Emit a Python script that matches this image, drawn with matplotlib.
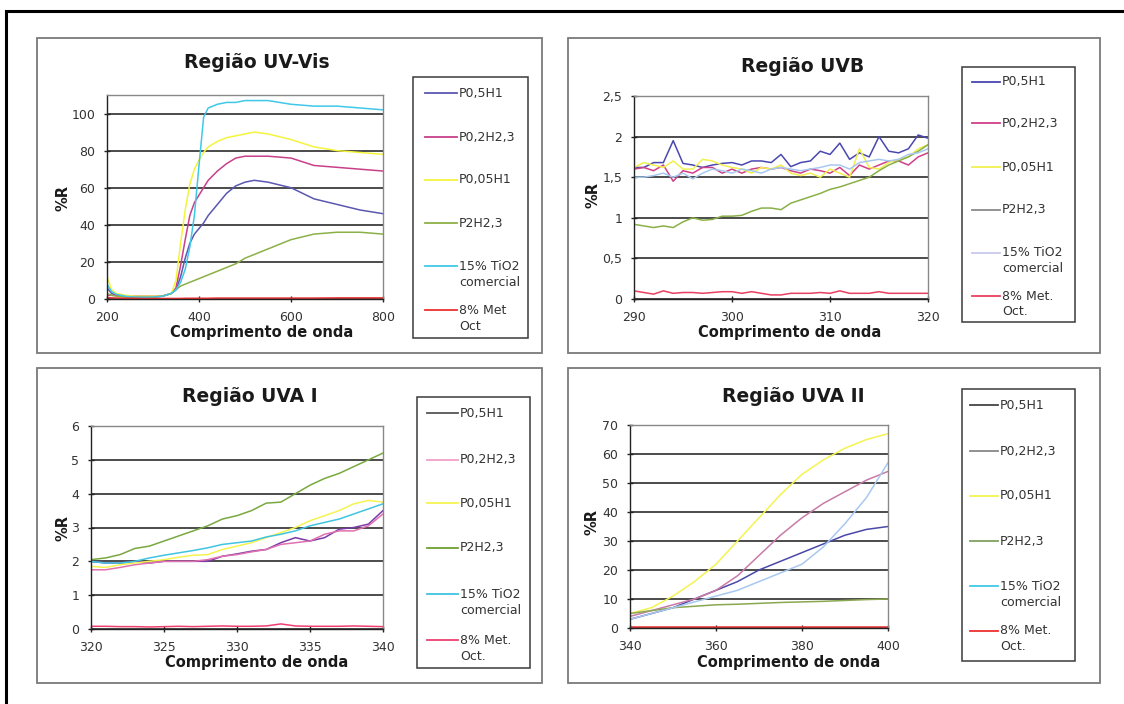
import matplotlib
matplotlib.use("Agg")
import matplotlib.pyplot as plt
from matplotlib.patches import Rectangle
from matplotlib.lines import Line2D

W = 1124
H = 704

series_names = ["P0,5H1", "P0,2H2,3", "P0,05H1", "P2H2,3", "15% TiO2\ncomercial", "8% Met.\nOct."]

# Regiao UV-Vis
x_vis = [200, 210, 220, 240, 260, 280, 300, 320, 340, 350, 360, 370, 380, 390, 400, 410, 420, 440, 460, 480, 500, 520, 550, 600, 650, 700, 750, 800]
vis_p05h1 = [6, 3, 2, 1.5, 1, 1, 1, 1.5, 3, 5, 12, 22, 30, 35, 38, 41, 45, 51, 57, 61, 63, 64, 63, 60, 54, 51, 48, 46]
vis_p02h23 = [2, 2, 2, 1.5, 1.5, 1.5, 1.5, 1.5, 3, 6, 18, 32, 45, 52, 56, 60, 64, 69, 73, 76, 77, 77, 77, 76, 72, 71, 70, 69]
vis_p005h1 = [12, 5, 3, 2, 1.5, 1.5, 1.5, 1.5, 3, 10, 30, 48, 62, 70, 75, 79, 82, 85, 87, 88, 89, 90, 89, 86, 82, 80, 79, 78]
vis_p2h23 = [3, 2, 1.5, 1, 1, 1, 1, 1.5, 3, 5, 7, 8, 9, 10, 11, 12, 13, 15, 17, 19, 22, 24, 27, 32, 35, 36, 36, 35]
vis_tio2 = [8, 4, 2.5, 1.5, 1, 1, 1, 1.5, 3, 5, 9, 16, 28, 45, 72, 98, 103, 105, 106, 106, 107, 107, 107, 105, 104, 104, 103, 102]
vis_met = [0.8, 0.6, 0.5, 0.4, 0.4, 0.3, 0.3, 0.3, 0.3, 0.3, 0.3, 0.4, 0.4, 0.4, 0.4, 0.4, 0.4, 0.5, 0.5, 0.5, 0.5, 0.5, 0.5, 0.5, 0.5, 0.6, 0.6, 0.6]

# Regiao UVB
x_uvb = list(range(290, 321))
uvb_p05h1 = [1.62, 1.62, 1.68, 1.68, 1.95, 1.67, 1.65, 1.62, 1.65, 1.67, 1.68, 1.65, 1.70, 1.70, 1.68, 1.78,
             1.63, 1.68, 1.70, 1.82, 1.78, 1.92, 1.72, 1.80, 1.75, 2.00, 1.82, 1.80, 1.85, 2.02, 1.98]
uvb_p02h23 = [1.60, 1.62, 1.58, 1.65, 1.45, 1.58, 1.55, 1.62, 1.62, 1.55, 1.60, 1.55, 1.60, 1.62, 1.60, 1.62,
              1.58, 1.55, 1.60, 1.58, 1.55, 1.62, 1.52, 1.65, 1.60, 1.65, 1.70, 1.70, 1.65, 1.75, 1.80]
uvb_p005h1 = [1.62, 1.68, 1.65, 1.62, 1.70, 1.60, 1.60, 1.72, 1.70, 1.65, 1.62, 1.60, 1.55, 1.62, 1.60, 1.65,
              1.55, 1.52, 1.55, 1.50, 1.60, 1.55, 1.50, 1.85, 1.62, 1.60, 1.68, 1.72, 1.75, 1.85, 1.90]
uvb_p2h23 = [0.92, 0.90, 0.88, 0.90, 0.88, 0.95, 1.00, 0.97, 0.98, 1.02, 1.02, 1.03, 1.08, 1.12, 1.12, 1.10,
             1.18, 1.22, 1.26, 1.30, 1.35, 1.38, 1.42, 1.46, 1.50, 1.58, 1.65, 1.70, 1.75, 1.82, 1.90]
uvb_tio2 = [1.50, 1.50, 1.52, 1.55, 1.50, 1.55, 1.48, 1.55, 1.60, 1.58, 1.55, 1.60, 1.58, 1.55, 1.60, 1.62,
            1.60, 1.58, 1.60, 1.62, 1.65, 1.65, 1.60, 1.68, 1.70, 1.72, 1.70, 1.72, 1.78, 1.80, 1.85]
uvb_met = [0.10, 0.08, 0.06, 0.10, 0.07, 0.08, 0.08, 0.07, 0.08, 0.09, 0.09, 0.07, 0.09, 0.07, 0.05, 0.05,
           0.07, 0.07, 0.07, 0.08, 0.07, 0.10, 0.07, 0.07, 0.07, 0.09, 0.07, 0.07, 0.07, 0.07, 0.07]

# Regiao UVA I
x_uva1 = list(range(320, 341))
uva1_p05h1 = [2.0, 1.95, 1.95, 2.0, 1.95, 2.0, 2.0, 2.0, 2.0, 2.15, 2.22, 2.3, 2.35, 2.55, 2.7, 2.6, 2.7, 2.95, 3.0, 3.1, 3.5]
uva1_p02h23 = [1.75, 1.75, 1.82, 1.9, 1.95, 2.0, 2.0, 2.0, 2.05, 2.15, 2.2, 2.28, 2.35, 2.5, 2.55, 2.6, 2.8, 2.9, 2.9, 3.05, 3.4]
uva1_p005h1 = [1.85, 1.82, 1.9, 1.95, 2.0, 2.05, 2.12, 2.18, 2.2, 2.35, 2.45, 2.55, 2.7, 2.85, 3.0, 3.2, 3.35, 3.5, 3.7, 3.8, 3.75]
uva1_p2h23 = [2.05, 2.1, 2.2, 2.38, 2.45, 2.6, 2.75, 2.9, 3.05, 3.25, 3.35, 3.5, 3.72, 3.75, 4.0, 4.25, 4.45, 4.6, 4.8, 5.0, 5.2]
uva1_tio2 = [2.0, 1.95, 1.95, 2.0, 2.1, 2.18, 2.25, 2.32, 2.4, 2.5, 2.55, 2.6, 2.72, 2.8, 2.9, 3.05, 3.15, 3.25, 3.4, 3.55, 3.7]
uva1_met = [0.08, 0.08, 0.07, 0.07, 0.06, 0.07, 0.08, 0.07, 0.08, 0.09, 0.08, 0.08, 0.09, 0.15, 0.09, 0.08, 0.08, 0.08, 0.09, 0.08, 0.07]

# Regiao UVA II
x_uva2 = [340, 345, 350, 355, 360, 365, 370, 375, 380, 385, 390, 395, 400]
uva2_p05h1 = [3, 5, 7, 10, 13, 16, 20, 23, 26, 29, 32, 34, 35]
uva2_p02h23 = [4, 6, 8, 10, 13, 18, 25, 32, 38, 43, 47, 51, 54]
uva2_p005h1 = [5, 7, 11, 16, 22, 30, 38, 46, 53, 58, 62, 65, 67]
uva2_p2h23 = [5, 6, 7, 7.5, 8, 8.2, 8.5, 8.8, 9, 9.2, 9.5, 9.8, 10]
uva2_tio2 = [3, 5, 7, 9, 11, 13, 16, 19, 22, 28, 36, 45, 57]
uva2_met = [0.2, 0.2, 0.2, 0.2, 0.2, 0.2, 0.2, 0.2, 0.2, 0.2, 0.2, 0.2, 0.2]

FONT = "DejaVu Sans"
TXT = "#333333"


def fig_rect(x0, y0, x1, y1):
    # pixel box (top-left origin) -> figure fraction rect
    return [x0 / W, 1 - y1 / H, (x1 - x0) / W, (y1 - y0) / H]


fig = plt.figure(figsize=(W / 100, H / 100), dpi=100)
fig.patch.set_facecolor("white")

# outer frame, runs off the right and bottom edge
fig.patches.append(Rectangle((6 / W, 1 - 720 / H), 1130 / W, 709 / H, transform=fig.transFigure,
                             fill=False, edgecolor="black", linewidth=2.2))


def panel(box, plot, title, title_xy, xl_xy, yl_xy, xs, ys, colors, xlim, ylim, xticks, yticks, ytlabels,
          leg_box, leg_y, leg_x, leg_colors, labels):
    bx0, by0, bx1, by1 = box
    fig.patches.append(Rectangle((bx0 / W, 1 - by1 / H), (bx1 - bx0) / W, (by1 - by0) / H,
                                 transform=fig.transFigure, fill=False, edgecolor="#7a7a7a", linewidth=1.3))
    ax = fig.add_axes(fig_rect(*plot))
    for y, c in zip(ys, colors):
        ax.plot(xs, y, color=c, linewidth=1.1, solid_joinstyle="round")
    ax.set_xlim(xlim)
    ax.set_ylim(ylim)
    ax.set_xticks(xticks)
    ax.set_xticklabels([str(t) for t in xticks])
    ax.set_yticks(yticks)
    ax.set_yticklabels(ytlabels)
    ax.yaxis.grid(True, color="#1a1a1a", linewidth=1.1)
    ax.set_axisbelow(True)
    ax.spines["left"].set_color("#222222")
    ax.spines["bottom"].set_color("#222222")
    ax.spines["top"].set_color("#888888")
    ax.spines["right"].set_color("#888888")
    for s in ax.spines.values():
        s.set_linewidth(1.0)
    ax.tick_params(axis="both", direction="inout", length=5, width=1.0, color="#222222",
                   labelsize=9, labelcolor=TXT, pad=6)
    for lab in ax.get_xticklabels() + ax.get_yticklabels():
        lab.set_family(FONT)

    fig.text(title_xy[0] / W, 1 - title_xy[1] / H, title, ha="center", va="center",
             fontsize=13.5, fontweight="bold", family=FONT, color="#1a1a1a")
    fig.text(xl_xy[0] / W, 1 - xl_xy[1] / H, "Comprimento de onda", ha="center", va="center",
             fontsize=10.5, fontweight="bold", family=FONT, color="#1a1a1a")
    fig.text(yl_xy[0] / W, 1 - yl_xy[1] / H, "%R", ha="center", va="center", rotation=90,
             fontsize=10.5, fontweight="bold", family=FONT, color="#1a1a1a")

    # legend box drawn in pixel units
    lx0, ly0, lx1, ly1 = leg_box
    fig.patches.append(Rectangle((lx0 / W, 1 - ly1 / H), (lx1 - lx0) / W, (ly1 - ly0) / H,
                                 transform=fig.transFigure, fill=False, edgecolor="#3a3a3a", linewidth=1.1))
    for yy, c, lab in zip(leg_y, leg_colors, labels):
        fig.lines.append(Line2D([leg_x[0] / W, leg_x[1] / W], [1 - yy / H, 1 - yy / H],
                                transform=fig.transFigure, color=c, linewidth=1.3))
        for i, part in enumerate(lab.split("\n")):
            fig.text(leg_x[1] / W + 2 / W, 1 - (yy + 16 * i) / H, part, ha="left", va="center",
                     fontsize=9, family=FONT, color=TXT)
    return ax


panel((37, 38, 542, 353), (107, 95, 383, 299), "Região UV-Vis", (257, 62), (262, 333), (63, 198),
      x_vis, [vis_p05h1, vis_p02h23, vis_p005h1, vis_p2h23, vis_tio2, vis_met],
      ["#5a58b0", "#c8408a", "#f4f43c", "#8cb048", "#40c8e8", "#ee3030"],
      (200, 800), (0, 110), [200, 400, 600, 800], [0, 20, 40, 60, 80, 100],
      ["0", "20", "40", "60", "80", "100"],
      (413, 77, 528, 338), [93, 137, 180, 223, 266, 310], (425, 457),
      ["#5a58b0", "#c8408a", "#f4f43c", "#8cb048", "#40c8e8", "#ee3030"],
      ["P0,5H1", "P0,2H2,3", "P0,05H1", "P2H2,3", "15% TiO2\ncomercial", "8% Met\nOct"])

panel((568, 38, 1100, 353), (634, 96, 928, 299), "Região UVB", (803, 66), (790, 333), (593, 195),
      x_uvb, [uvb_p05h1, uvb_p02h23, uvb_p005h1, uvb_p2h23, uvb_tio2, uvb_met],
      ["#4a48b0", "#d04088", "#f0f050", "#8ab048", "#a8c8f0", "#e84060"],
      (290, 320), (0, 2.5), [290, 300, 310, 320], [0, 0.5, 1, 1.5, 2, 2.5],
      ["0", "0,5", "1", "1,5", "2", "2,5"],
      (962, 67, 1075, 322), [82, 123, 167, 210, 253, 296], (972, 1000),
      ["#4a48b0", "#d04088", "#f0f050", "#8a8a8a", "#c8c8ec", "#e84060"],
      series_names)

panel((37, 368, 542, 683), (91, 426, 383, 629), "Região UVA I", (250, 396), (257, 663), (63, 528),
      x_uva1, [uva1_p05h1, uva1_p02h23, uva1_p005h1, uva1_p2h23, uva1_tio2, uva1_met],
      ["#7a3aa8", "#e070b0", "#f4f450", "#7aa840", "#40c4e0", "#ee4070"],
      (320, 340), (0, 6), [320, 325, 330, 335, 340], [0, 1, 2, 3, 4, 5, 6],
      ["0", "1", "2", "3", "4", "5", "6"],
      (417, 397, 530, 668), [413, 460, 503, 548, 594, 640], (427, 458),
      ["#555555", "#f0a0c8", "#f4f450", "#70a030", "#40c4e0", "#ee4070"],
      series_names)

panel((568, 368, 1100, 683), (630, 425, 888, 628), "Região UVA II", (793, 396), (789, 663), (592, 522),
      x_uva2, [uva2_p05h1, uva2_p02h23, uva2_p005h1, uva2_p2h23, uva2_tio2, uva2_met],
      ["#4a48a8", "#c87aa8", "#f4f450", "#8aa850", "#a8c8f0", "#ee3030"],
      (340, 400), (0, 70), [340, 360, 380, 400], [0, 10, 20, 30, 40, 50, 60, 70],
      ["0", "10", "20", "30", "40", "50", "60", "70"],
      (962, 389, 1075, 661), [405, 451, 496, 541, 586, 631], (970, 998),
      ["#444444", "#888888", "#f4f450", "#80a060", "#40c8e8", "#ee3030"],
      series_names)

plt.savefig("out.png", dpi=100)
